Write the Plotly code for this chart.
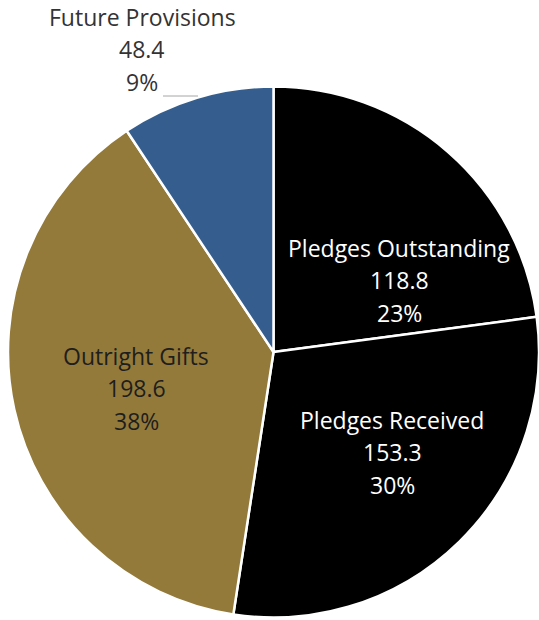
import plotly.graph_objects as go

# Gift categories and amounts
categories = ["Pledges Outstanding", "Pledges Received", "Outright Gifts", "Future Provisions"]
amounts = [118.8, 153.3, 198.6, 48.4]
slice_colors = ["#000000", "#000000", "#937A3A", "#355E8E"]
text_colors = ["#FFFFFF", "#FFFFFF", "#1E1E1E", "#333333"]

W, H = 539, 620
total = sum(amounts)

fig = go.Figure(go.Pie(
    labels=categories,
    values=amounts,
    sort=False,
    direction="clockwise",
    rotation=0,
    marker=dict(colors=slice_colors, line=dict(color="#FFFFFF", width=2.5)),
    textinfo="none",
    hoverinfo="label+value+percent",
    showlegend=False,
    domain=dict(x=[8 / W, 1.0], y=[2 / H, 534 / H]),
))

# Label block centres (pixels, middle line) for each slice
label_centres = [(399, 280), (392, 452), (136, 388), (142, 49)]
line_gap = 32.5
font_family = "'Open Sans', Lato, sans-serif"

for name, val, col, (cx, cy) in zip(categories, amounts, text_colors, label_centres):
    lines = [name, f"{val:.1f}", f"{round(100 * val / total):.0f}%"]
    for i, txt in enumerate(lines):
        py = cy + (i - 1) * line_gap
        fig.add_annotation(
            x=cx / W, y=1 - py / H, xref="paper", yref="paper",
            text=txt, showarrow=False, xanchor="center", yanchor="middle",
            font=dict(family=font_family, size=23, color=col),
        )

# Short leader line beside the outside label
fig.add_shape(type="line", xref="paper", yref="paper",
              x0=163 / W, x1=198 / W, y0=1 - 96 / H, y1=1 - 96 / H,
              line=dict(color="#A6A6A6", width=1))

fig.update_layout(
    width=W, height=H,
    margin=dict(l=0, r=0, t=0, b=0),
    paper_bgcolor="#FFFFFF",
    plot_bgcolor="#FFFFFF",
)

fig.write_html("out.html")
